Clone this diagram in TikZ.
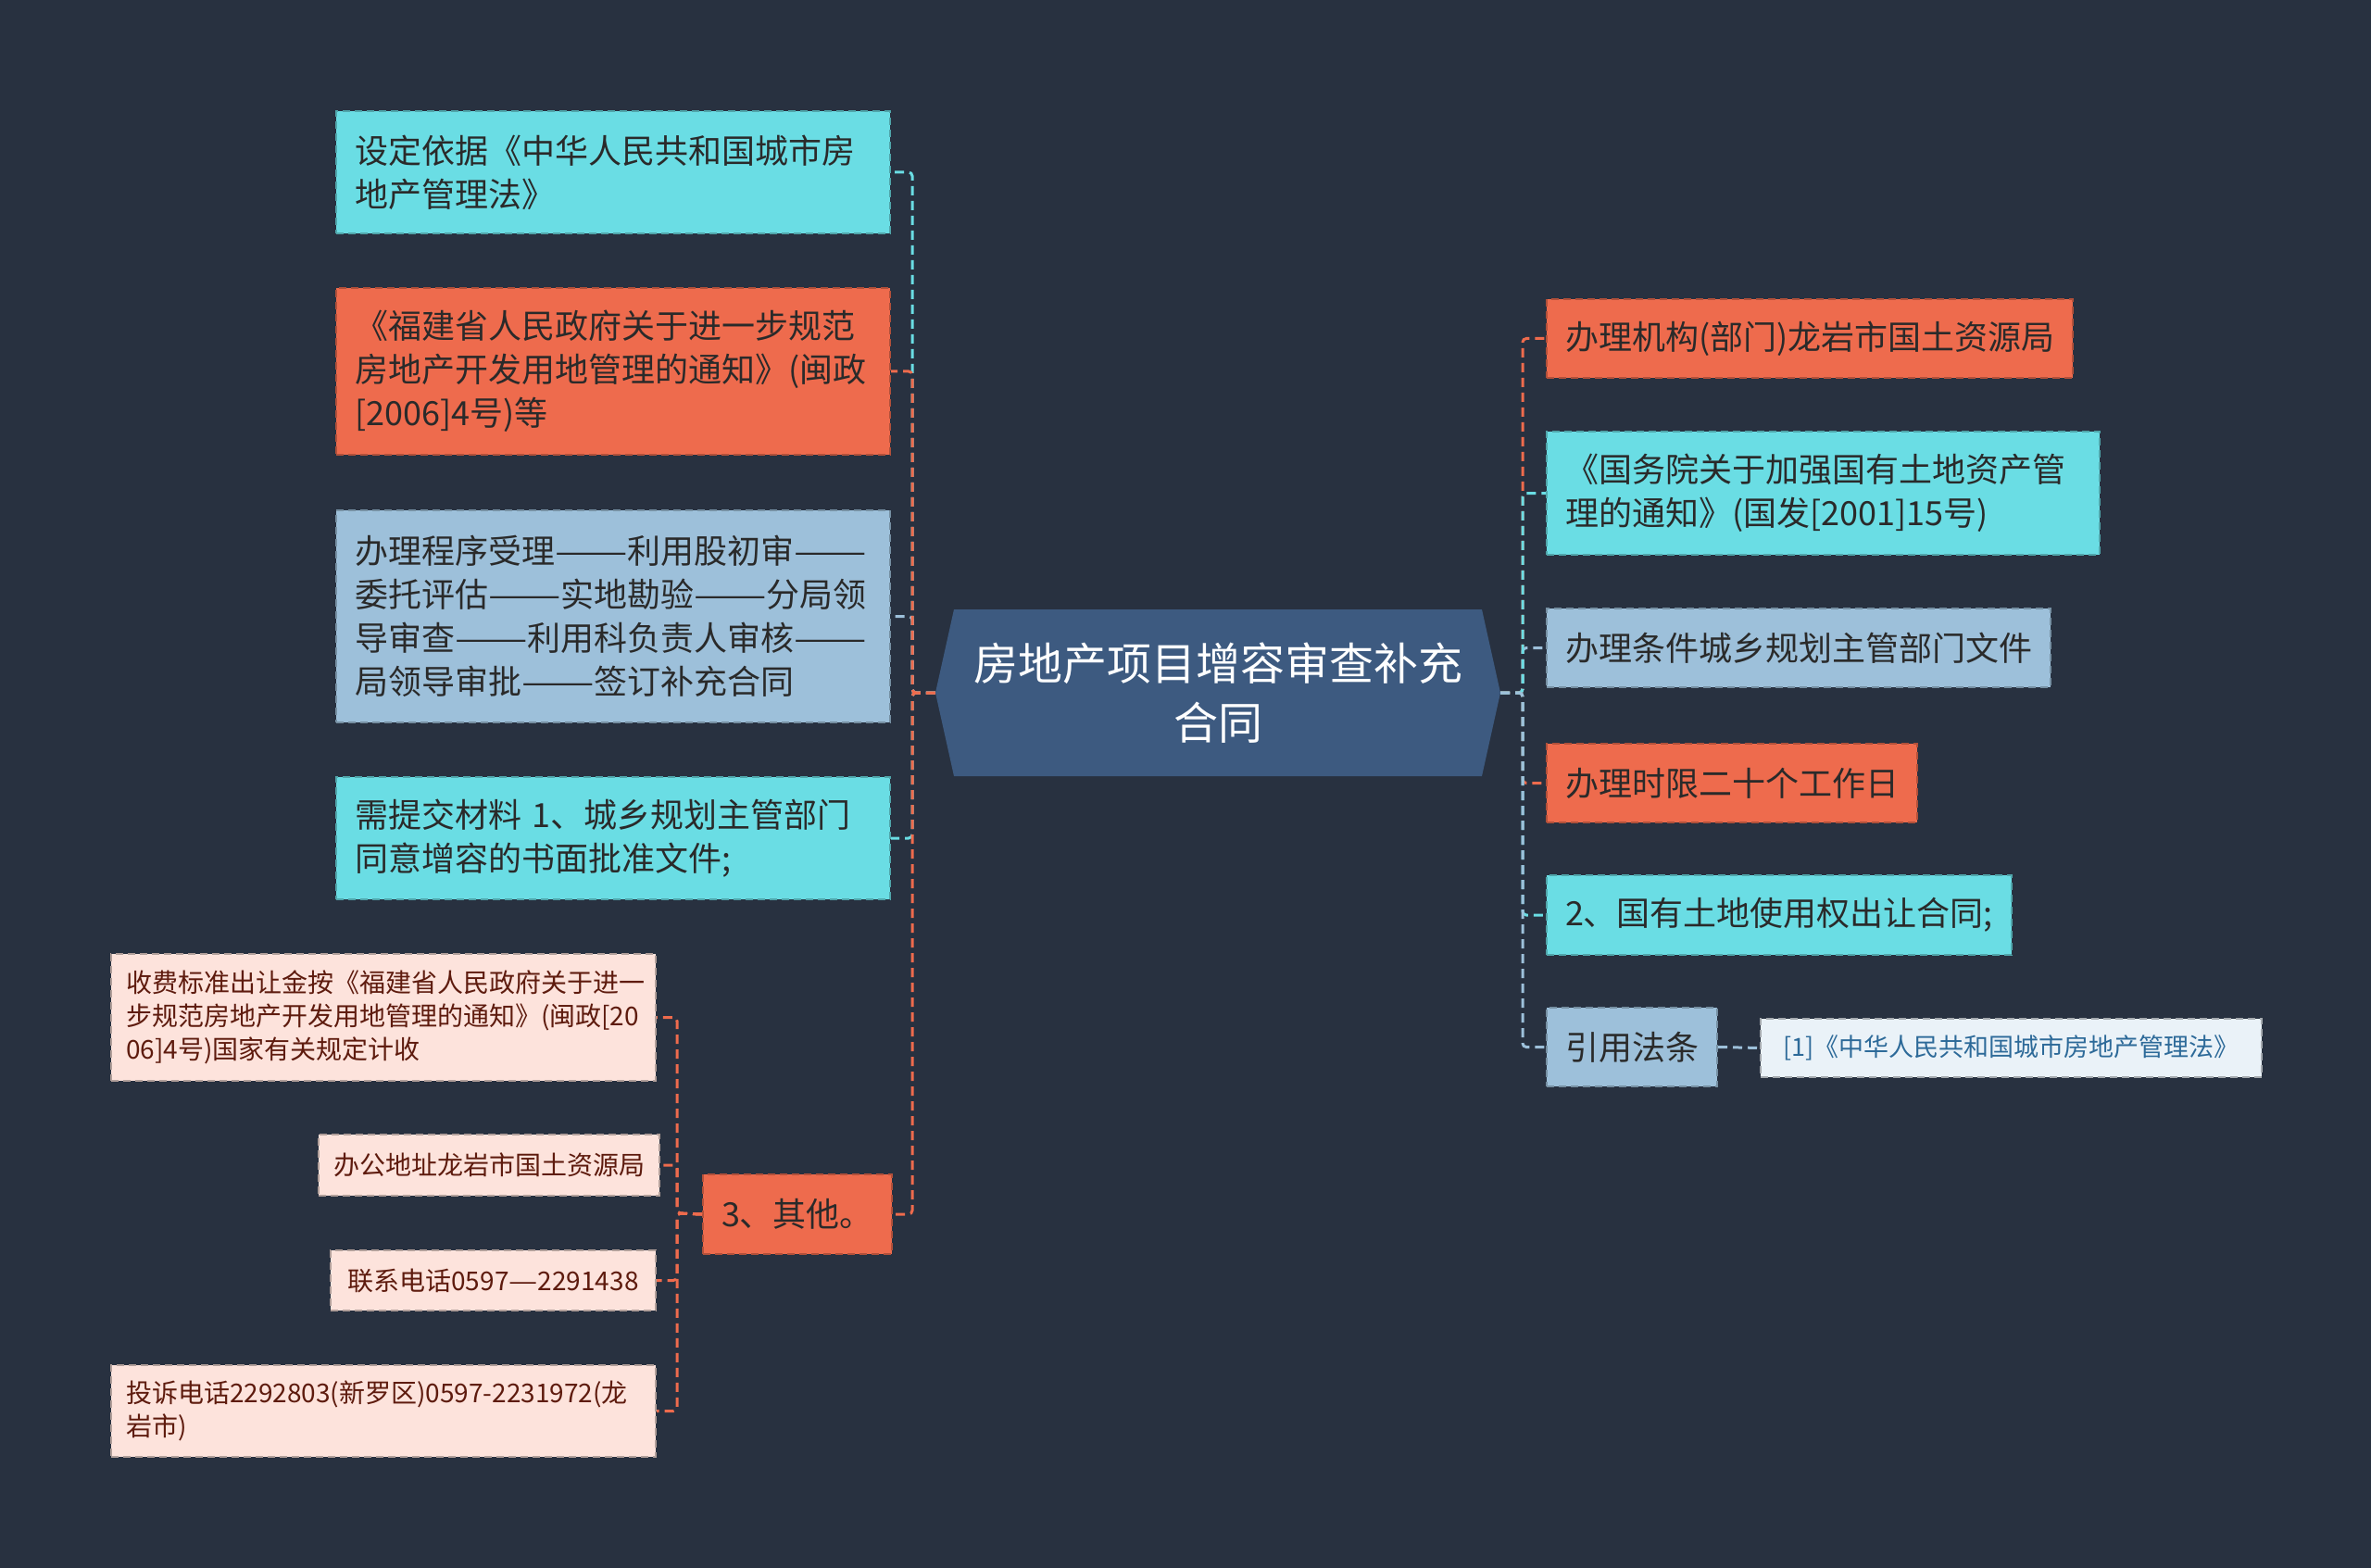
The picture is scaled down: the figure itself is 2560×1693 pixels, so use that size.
\documentclass[tikz,border=0pt]{standalone}
\usepackage{fontspec}
\usepackage{graphicx}
\setmainfont{Noto Sans CJK SC}
\definecolor{bgc}{HTML}{283140}
\definecolor{cyanc}{HTML}{6ADDE4}
\definecolor{orangec}{HTML}{EE6B4D}
\definecolor{bluec}{HTML}{9DC0DA}
\definecolor{centerc}{HTML}{3D5A80}
\definecolor{peachc}{HTML}{FDE3DC}
\definecolor{palec}{HTML}{EAF2F8}
\definecolor{txt}{HTML}{2A2A2A}
\definecolor{subtxt}{HTML}{5E1B0E}
\definecolor{reftxt}{HTML}{2D6A99}
\newcommand{\longdash}{\scalebox{1.3}[1]{——}}
\tikzset{
  box/.style={rectangle, anchor=north west, inner xsep=20pt, inner ysep=0pt,
    line width=2pt, dash pattern=on 8pt off 5pt, text=txt, align=left,
    font=\fontsize{36}{47}\selectfont},
  cy/.style={box, fill=cyanc, draw=cyanc!75!black},
  og/.style={box, fill=orangec, draw=orangec!75!black},
  lb/.style={box, fill=bluec, draw=bluec!75!black},
  sub/.style={box, fill=peachc, draw=peachc!70!black, inner xsep=16pt, text=subtxt,
    font=\fontsize{28}{36}\selectfont},
  refbox/.style={box, fill=palec, draw=palec!70!black, inner xsep=16pt, text=reftxt,
    font=\fontsize{27}{36}\selectfont},
  conn/.style={line width=3pt, dash pattern=on 10pt off 6pt, rounded corners=4pt},
}
\begin{document}
\begin{tikzpicture}[x=1pt,y=-1pt]
\fill[bgc] (0,0) rectangle (2560,1693);
\useasboundingbox (0,0) rectangle (2560,1693);

% center node
\fill[centerc] (1010,748) -- (1030,658) -- (1600,658) -- (1620,748) -- (1600,838) -- (1030,838) -- cycle;
\node[minimum width=610pt, minimum height=180pt, inner sep=0pt, text=white, align=center,
  font=\fontsize{48}{64}\selectfont] (c) at (1315,748) {房地产项目增容审查补充\\合同};

% left nodes
\node[cy, minimum width=598pt, minimum height=132pt, text width=558pt] (n1) at (362,119)
  {设定依据《中华人民共和国城市房\\地产管理法》};
\node[og, minimum width=598pt, minimum height=180pt, text width=558pt] (n2) at (362,310)
  {《福建省人民政府关于进一步规范\\房地产开发用地管理的通知》(闽政\\{}[2006]4号)等};
\node[lb, minimum width=598pt, minimum height=229pt, text width=558pt] (n3) at (362,550)
  {办理程序受理\longdash 利用股初审\longdash\\委托评估\longdash 实地勘验\longdash 分局领\\导审查\longdash 利用科负责人审核\longdash\\局领导审批\longdash 签订补充合同};
\node[cy, minimum width=598pt, minimum height=132pt, text width=558pt] (n4) at (362,838)
  {需提交材料~1、城乡规划主管部门\\同意增容的书面批准文件;};
\node[og, minimum width=202pt, minimum height=86pt] (n5) at (758,1267) {3、其他。};

% sub nodes of n5
\node[sub, minimum width=588pt, minimum height=137pt, text width=556pt] (s1) at (119,1029)
  {收费标准出让金按《福建省人民政府关于进一\\步规范房地产开发用地管理的通知》(闽政[20\\06]4号)国家有关规定计收};
\node[sub, minimum width=364pt, minimum height=66pt] (s2) at (343,1224) {办公地址龙岩市国土资源局};
\node[sub, minimum width=351pt, minimum height=65pt] (s3) at (356,1349) {联系电话0597\scalebox{1.25}[1]{—}2291438};
\node[sub, minimum width=588pt, minimum height=99pt, text width=556pt] (s4) at (119,1473)
  {投诉电话2292803(新罗区)0597-2231972(龙\\岩市)};

% right nodes
\node[og, minimum width=565pt, minimum height=85pt] (r1) at (1669,322) {办理机构(部门)龙岩市国土资源局};
\node[cy, minimum width=597pt, minimum height=133pt, text width=557pt] (r2) at (1669,465)
  {《国务院关于加强国有土地资产管\\理的通知》(国发[2001]15号)};
\node[lb, minimum width=540pt, minimum height=85pt] (r3) at (1669,656) {办理条件城乡规划主管部门文件};
\node[og, minimum width=396pt, minimum height=85pt] (r4) at (1669,802) {办理时限二十个工作日};
\node[cy, minimum width=499pt, minimum height=86pt] (r5) at (1669,944) {2、国有土地使用权出让合同;};
\node[lb, minimum width=182pt, minimum height=85pt] (r6) at (1669,1087) {引用法条};
\node[refbox, minimum width=541pt, minimum height=63pt] (r7) at (1900,1099) {[1]《中华人民共和国城市房地产管理法》};

% trunk coordinates
\coordinate (lt) at (985,748);
\coordinate (rt) at (1644,748);
\coordinate (st) at (731,1310);

% left connectors
\draw[conn, cyanc] (c.west) -- (lt) |- (n1.east);
\draw[conn, bluec] (c.west) -- (lt) |- (n3.east);
\draw[conn, cyanc] (c.west) -- (lt) |- (n4.east);
\draw[conn, orangec] (c.west) -- (lt) |- (n2.east);
\draw[conn, orangec] (c.west) -- (lt) |- (n5.east);

% sub connectors
\draw[conn, orangec] (n5.west) -- (st) |- (s1.east);
\draw[conn, orangec] (n5.west) -- (st) |- (s2.east);
\draw[conn, orangec] (n5.west) -- (st) |- (s3.east);
\draw[conn, orangec] (n5.west) -- (st) |- (s4.east);

% right connectors
\draw[conn, orangec] (c.east) -- (rt) |- (r1.west);
\draw[conn, bluec] (c.east) -- (rt) |- (r3.west);
\draw[conn, cyanc] (c.east) -- (rt) |- (r2.west);
\draw[conn, orangec] (c.east) -- (rt) |- (r4.west);
\draw[conn, cyanc] (c.east) -- (rt) |- (r5.west);
\draw[conn, bluec] (c.east) -- (rt) |- (r6.west);
\draw[conn, bluec] (r6.east) -- (r7.west);
\end{tikzpicture}
\end{document}
